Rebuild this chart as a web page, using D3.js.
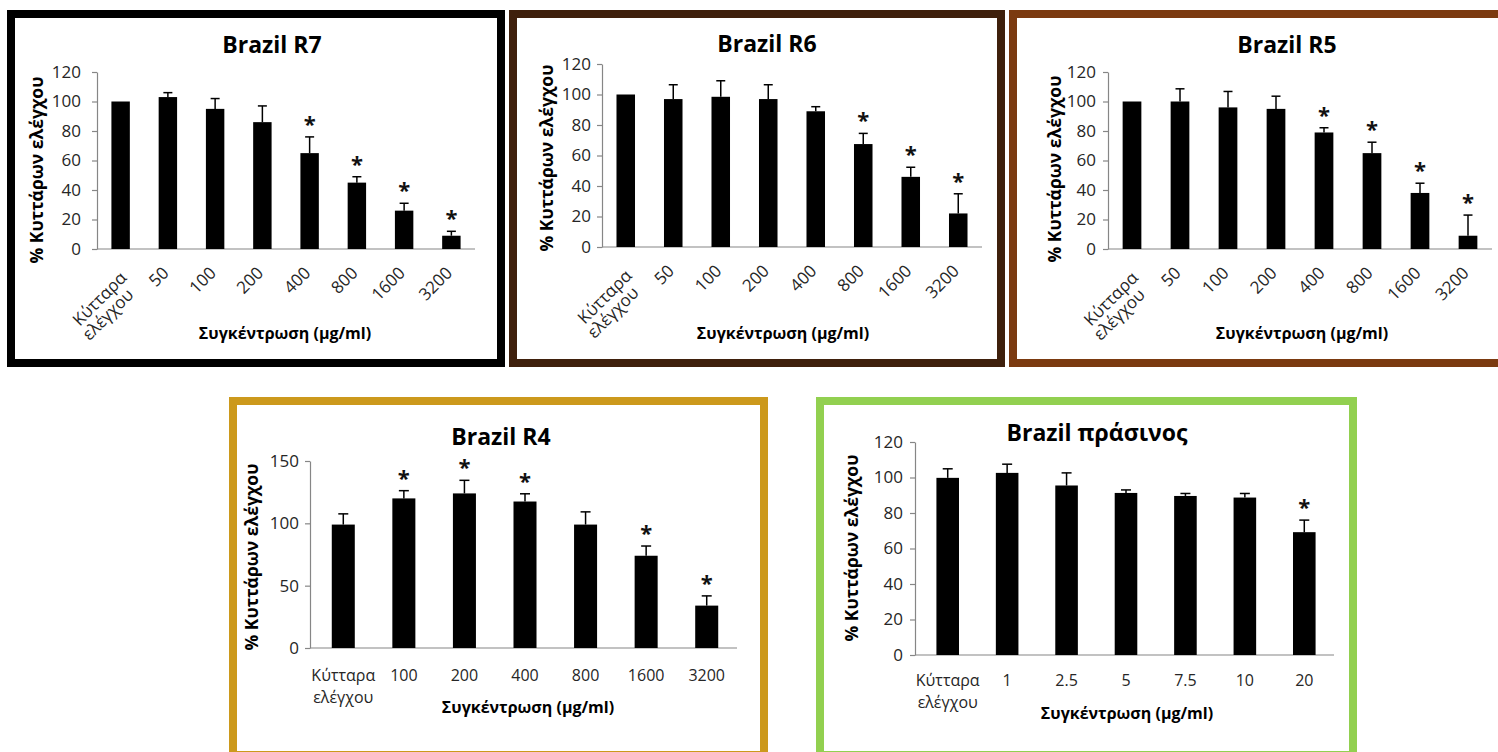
<!DOCTYPE html>
<html>
<head>
<meta charset="utf-8">
<script src="https://cdn.jsdelivr.net/npm/d3@7"></script>
<style>
  html, body { margin: 0; padding: 0; background: #ffffff; }
  svg { display: block; }
  text { font-family: "Open Sans", "Noto Sans", sans-serif; }
</style>
</head>
<body>
<svg id="chart" width="1498" height="752"></svg>
<script>
// ---------------- DATA ----------------
const r7Categories = ["Κύτταρα ελέγχου", "50", "100", "200", "400", "800", "1600", "3200"];
const r7Values = [100, 103, 95, 86, 65, 45, 26, 9];
const r7Errors = [0, 3, 7, 11, 11, 4, 5, 3];
const r7Significant = [false, false, false, false, true, true, true, true];

const r6Categories = ["Κύτταρα ελέγχου", "50", "100", "200", "400", "800", "1600", "3200"];
const r6Values = [100, 97, 98.5, 97, 89, 67.5, 46, 22];
const r6Errors = [0, 9.4, 10.5, 9.4, 3, 7, 6.3, 12.9];
const r6Significant = [false, false, false, false, false, true, true, true];

const r5Categories = ["Κύτταρα ελέγχου", "50", "100", "200", "400", "800", "1600", "3200"];
const r5Values = [100, 100, 96, 95, 79, 65, 38, 9];
const r5Errors = [0, 8.6, 10.8, 8.6, 3.2, 7.4, 6.6, 14];
const r5Significant = [false, false, false, false, true, true, true, true];

const r4Categories = ["Κύτταρα ελέγχου", "100", "200", "400", "800", "1600", "3200"];
const r4Values = [99, 120, 124, 117.5, 99, 74, 34];
const r4Errors = [8.6, 6.2, 10.5, 6.2, 10.2, 7.8, 7.8];
const r4Significant = [false, true, true, true, false, true, true];

const greenCategories = ["Κύτταρα ελέγχου", "1", "2.5", "5", "7.5", "10", "20"];
const greenValues = [99.8, 102.6, 95.5, 91.3, 89.6, 88.7, 69.2];
const greenErrors = [5.1, 4.9, 7.1, 1.7, 1.4, 2.3, 6.8];
const greenSignificant = [false, false, false, false, false, false, true];

const ticks120 = [0, 20, 40, 60, 80, 100, 120];
const ticks150 = [0, 50, 100, 150];

const titles = ["Brazil R7", "Brazil R6", "Brazil R5", "Brazil R4", "Brazil πράσινος"];
const yAxisTitle = "% Κυττάρων ελέγχου";
const xAxisTitle = "Συγκέντρωση (μg/ml)";

// ---------------- DRAW ----------------
const svg = d3.select("#chart");
svg.append("rect").attr("width", 1498).attr("height", 752).attr("fill", "#fff");

function panel(cfg) {
  const g = svg.append("g");
  const b = cfg.box;
  g.append("rect")
    .attr("x", b.x + b.bw / 2).attr("y", b.y + b.bw / 2)
    .attr("width", b.w - b.bw).attr("height", b.h - b.bw)
    .attr("fill", "none").attr("stroke", b.color).attr("stroke-width", b.bw);

  const p = cfg.plot;
  const x = d3.scaleBand().domain(cfg.categories).range([p.left, p.right]).paddingInner(0).paddingOuter(0);
  const y = d3.scaleLinear().domain([0, cfg.ticks[cfg.ticks.length - 1]]).range([p.bottom, p.top]);

  // y axis
  const ya = g.append("g").attr("transform", `translate(${p.axisX},0)`)
    .call(d3.axisLeft(y).tickValues(cfg.ticks).tickSize(5).tickSizeOuter(0).tickPadding(cfg.tickGap - 5));
  ya.select(".domain").attr("stroke", "#868686").attr("stroke-width", 1.2);
  ya.selectAll(".tick line").attr("stroke", "#868686").attr("stroke-width", 1.2);
  ya.selectAll(".tick text").attr("font-size", 17).attr("fill", "#262626")
    .attr("font-family", "'Open Sans', sans-serif");

  // x axis line
  g.append("line").attr("x1", p.axisX).attr("x2", p.right)
    .attr("y1", y(0)).attr("y2", y(0)).attr("stroke", "#868686").attr("stroke-width", 1.2);

  const data = cfg.categories.map((c, i) => ({ c, v: cfg.values[i], e: cfg.errors[i], s: cfg.sig[i] }));
  const bw = x.bandwidth() * cfg.barFrac;
  const cx = d => x(d.c) + x.bandwidth() / 2;

  g.selectAll("rect.bar").data(data).enter().append("rect").attr("class", "bar")
    .attr("x", d => cx(d) - bw / 2).attr("width", bw)
    .attr("y", d => y(d.v)).attr("height", d => y(0) - y(d.v)).attr("fill", "#000");

  const eb = data.filter(d => d.e > 0);
  g.selectAll("line.err").data(eb).enter().append("line").attr("class", "err")
    .attr("x1", cx).attr("x2", cx).attr("y1", d => y(d.v)).attr("y2", d => y(d.v + d.e))
    .attr("stroke", "#000").attr("stroke-width", 1.5);
  g.selectAll("line.cap").data(eb).enter().append("line").attr("class", "cap")
    .attr("x1", d => cx(d) - cfg.cap / 2).attr("x2", d => cx(d) + cfg.cap / 2)
    .attr("y1", d => y(d.v + d.e)).attr("y2", d => y(d.v + d.e))
    .attr("stroke", "#000").attr("stroke-width", 1.5);

  g.selectAll("text.star").data(data.filter(d => d.s)).enter().append("text").attr("class", "star")
    .attr("x", cx).attr("y", d => y(d.v + d.e) - 5)
    .attr("text-anchor", "middle").attr("font-size", 22).attr("font-weight", "bold").attr("fill", "#111")
    .text("*");

  // x tick labels
  data.forEach(d => {
    const lines = d.c.split(" ");
    if (cfg.rotated) {
      if (lines.length === 1) {
        g.append("text")
          .attr("transform", `translate(${cx(d) + 2},${y(0) + 25}) rotate(-45)`)
          .attr("text-anchor", "end").attr("font-size", 17).attr("fill", "#262626").text(lines[0]);
      } else {
        g.append("text")
          .attr("transform", `translate(${cx(d) + 7},${y(0) + 30}) rotate(-45)`)
          .attr("text-anchor", "end").attr("font-size", 17).attr("fill", "#262626").text(lines[0]);
        g.append("text")
          .attr("transform", `translate(${cx(d) + 14},${y(0) + 47}) rotate(-45)`)
          .attr("text-anchor", "end").attr("font-size", 17).attr("fill", "#262626").text(lines[1]);
      }
    } else {
      const t = g.append("text").attr("x", cx(d)).attr("y", cfg.labelY)
        .attr("text-anchor", "middle").attr("font-size", 16).attr("fill", "#262626");
      lines.forEach((l, i) => t.append("tspan").attr("x", cx(d)).attr("dy", i === 0 ? 0 : "1.35em").text(l));
    }
  });

  // titles
  g.append("text").attr("x", cfg.title[0]).attr("y", cfg.title[1]).attr("text-anchor", "middle")
    .attr("font-size", 23).attr("font-weight", "bold").attr("fill", "#000").text(cfg.titleText);
  g.append("text").attr("transform", `translate(${cfg.yTitle[0]},${cfg.yTitle[1]}) rotate(-90)`)
    .attr("text-anchor", "middle").attr("font-size", 17.5).attr("font-weight", "bold").attr("fill", "#000")
    .text(yAxisTitle);
  g.append("text").attr("x", cfg.xTitle[0]).attr("y", cfg.xTitle[1]).attr("text-anchor", "middle")
    .attr("font-size", 16).attr("font-weight", "bold").attr("fill", "#000").text(xAxisTitle);
}

panel({
  box: { x: 7, y: 10, w: 498, h: 357, bw: 8, color: "#000000" },
  plot: { axisX: 97, left: 97, right: 475, top: 72, bottom: 249 },
  categories: r7Categories, values: r7Values, errors: r7Errors, sig: r7Significant,
  ticks: ticks120, tickGap: 16, barFrac: 0.39, cap: 9, rotated: true,
  title: [272, 53], titleText: titles[0], yTitle: [43, 170], xTitle: [285, 339]
});
panel({
  box: { x: 509, y: 10, w: 496, h: 357, bw: 8, color: "#3f200c" },
  plot: { axisX: 602, left: 602, right: 982, top: 64, bottom: 247 },
  categories: r6Categories, values: r6Values, errors: r6Errors, sig: r6Significant,
  ticks: ticks120, tickGap: 11, barFrac: 0.39, cap: 9, rotated: true,
  title: [767, 52], titleText: titles[1], yTitle: [553, 158], xTitle: [783, 339]
});
panel({
  box: { x: 1009, y: 10, w: 500, h: 357, bw: 8, color: "#7b3a10" },
  plot: { axisX: 1108, left: 1108, right: 1492, top: 72, bottom: 249 },
  categories: r5Categories, values: r5Values, errors: r5Errors, sig: r5Significant,
  ticks: ticks120, tickGap: 12, barFrac: 0.39, cap: 9, rotated: true,
  title: [1287, 53], titleText: titles[2], yTitle: [1061, 169], xTitle: [1302, 339]
});
panel({
  box: { x: 229, y: 397, w: 539, h: 362, bw: 8, color: "#cc991c" },
  plot: { axisX: 310, left: 313, right: 737, top: 461, bottom: 648 },
  categories: r4Categories, values: r4Values, errors: r4Errors, sig: r4Significant,
  ticks: ticks150, tickGap: 11, barFrac: 0.38, cap: 10, rotated: false, labelY: 681,
  title: [501, 445], titleText: titles[3], yTitle: [258, 557], xTitle: [528, 713]
});
panel({
  box: { x: 816, y: 397, w: 541, h: 362, bw: 8, color: "#92d050" },
  plot: { axisX: 915, left: 918, right: 1334, top: 442, bottom: 655 },
  categories: greenCategories, values: greenValues, errors: greenErrors, sig: greenSignificant,
  ticks: ticks120, tickGap: 12, barFrac: 0.38, cap: 10, rotated: false, labelY: 686,
  title: [1097, 441], titleText: titles[4], yTitle: [858, 548], xTitle: [1127, 719]
});
</script>
</body>
</html>
